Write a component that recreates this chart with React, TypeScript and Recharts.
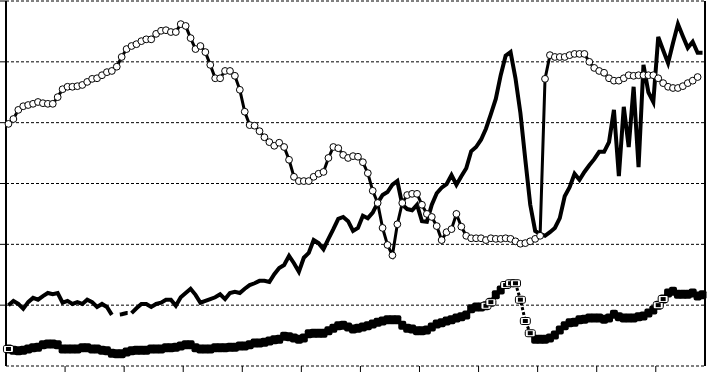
import React from 'react';
import { LineChart, Line, XAxis, YAxis, CartesianGrid } from 'recharts';

// monthly values, 142 months; the chart is cropped so no labels are shown
const openCircles = [
  39.8, 40.6, 42.1, 42.7, 42.9, 43.1, 43.4, 43.2, 43.1, 43.1,
  44.2, 45.5, 45.9, 45.9, 46.0, 46.2, 46.7, 47.2, 47.3, 47.8,
  48.3, 48.5, 49.2, 50.8, 52.1, 52.6, 52.9, 53.4, 53.7, 53.7,
  54.6, 55.1, 55.2, 54.9, 54.9, 56.2, 55.9, 53.9, 52.1, 52.6,
  51.6, 49.5, 47.3, 47.3, 48.5, 48.5, 47.7, 45.4, 41.8, 39.6,
  39.5, 38.6, 37.6, 36.8, 36.2, 36.7, 36.0, 33.9, 31.1, 30.4,
  30.4, 30.4, 31.1, 31.6, 31.9, 34.2, 36.0, 35.8, 34.7, 34.2,
  34.5, 34.4, 33.5, 31.7, 28.8, 26.8, 22.7, 19.9, 18.2, 23.3,
  26.8, 28.1, 28.3, 28.3, 26.5, 25.0, 24.5, 23.0, 20.7, 22.0,
  22.5, 25.0, 22.9, 21.4, 21.0, 21.0, 21.0, 20.7, 21.0, 20.9,
  20.9, 21.0, 20.9, 20.5, 20.1, 20.2, 20.5, 20.9, 21.4, 47.2,
  51.1, 50.8, 50.8, 50.8, 51.1, 51.3, 51.3, 51.3, 50.0, 49.0,
  48.5, 48.2, 47.3, 46.9, 46.9, 47.3, 47.8, 47.7, 47.8, 47.8,
  47.8, 47.8, 47.3, 46.5, 45.9, 45.7, 45.7, 46.0, 46.5, 46.9,
  47.5, null,
];

const solidLine = [
  10.0, 10.7, 10.2, 9.4, 10.5, 11.2, 10.9, 11.5, 12.0, 11.8,
  12.0, 10.4, 10.7, 10.2, 10.5, 10.2, 10.9, 10.5, 9.7, 10.2,
  9.7, 8.4, null, null, null, 8.7, 9.5, 10.2, 10.2, 9.7,
  10.2, 10.4, 10.9, 10.9, 9.9, 11.3, 12.0, 12.7, 11.7, 10.4,
  10.7, 11.0, 11.3, 11.8, 11.0, 12.0, 12.2, 12.0, 12.7, 13.3,
  13.6, 14.0, 14.0, 13.8, 15.1, 16.1, 16.6, 18.1, 16.9, 15.5,
  17.8, 18.6, 20.7, 20.2, 19.2, 20.9, 22.5, 24.2, 24.5, 23.8,
  22.2, 22.7, 24.7, 24.3, 25.2, 26.8, 28.1, 28.6, 29.8, 30.4,
  26.5, 25.8, 25.6, 26.5, 23.8, 23.7, 26.5, 28.4, 29.3, 29.9,
  31.4, 29.8, 31.2, 32.5, 35.3, 36.0, 37.2, 39.0, 41.4, 43.9,
  47.8, 51.0, 51.6, 47.3, 41.6, 33.9, 26.5, 22.2, 21.7, 21.4,
  22.0, 22.7, 24.3, 27.9, 29.4, 31.6, 30.6, 31.9, 33.0, 34.0,
  35.2, 35.2, 36.8, 42.1, 31.2, 42.6, 36.0, 45.9, 32.7, 49.5,
  45.0, 43.4, 54.1, 51.9, 49.8, 53.1, 56.2, 54.2, 52.3, 53.3,
  51.5, 51.5,
];

// short dashed bridge over the missing months of the solid line
const solidBridge: [number, number][] = [
  [21, 8.4], [22, 8.4], [23, 8.5], [24, 8.7], [25, 8.7],
];

const squares = [
  2.8, 2.6, 2.5, 2.6, 2.8, 3.0, 3.1, 3.5, 3.6, 3.6,
  3.5, 2.8, 2.8, 2.8, 2.8, 3.0, 3.0, 2.8, 2.8, 2.6,
  2.5, 2.1, 2.0, 2.0, 2.3, 2.5, 2.6, 2.6, 2.6, 2.8,
  2.8, 2.8, 3.0, 3.0, 3.1, 3.3, 3.5, 3.5, 3.0, 2.8,
  2.8, 2.8, 3.0, 3.0, 3.0, 3.1, 3.1, 3.3, 3.3, 3.5,
  3.8, 3.8, 3.9, 4.1, 4.3, 4.4, 4.9, 4.8, 4.6, 4.4,
  4.6, 5.3, 5.4, 5.4, 5.4, 5.8, 6.2, 6.6, 6.7, 6.4,
  6.1, 6.2, 6.4, 6.6, 6.9, 7.2, 7.4, 7.6, 7.6, 7.6,
  6.7, 6.2, 6.1, 5.8, 5.8, 5.9, 6.4, 6.9, 7.1, 7.4,
  7.6, 7.9, 8.1, 8.4, 9.4, 9.7, 9.7, 9.9, 10.5, 11.7,
  12.5, null, null, null, null, null, null, 4.4, 4.4, 4.4,
  4.6, 5.1, 5.9, 6.6, 7.1, 7.2, 7.6, 7.7, 7.9, 7.9,
  7.9, 7.7, 7.9, 8.5, 8.1, 7.9, 7.9, 7.9, 8.1, 8.2,
  8.7, 9.2, 10.0, 11.0, 12.0, 12.3, 11.8, 11.8, 11.8, 12.0,
  11.5, 11.7,
];

// months drawn with the outlined square marker and dashed line
const outlinedSquares: [number, number][] = [
  [0, 2.8], [97, 9.9], [98, 10.5],
  [101, 13.3], [102, 13.6], [103, 13.6], [104, 10.9], [105, 7.4], [106, 5.4],
  [132, 10.0], [133, 11.0],
];

const yearTicks = [-0.5, 11.5, 23.5, 35.5, 47.5, 59.5, 71.5, 83.5, 95.5, 107.5, 119.5, 131.5];
const leftTicks = [10, 20, 30, 40, 50, 60];
const rightTicks = [0, 10, 20, 30, 40, 50, 60];

const bridgeMap = new Map(solidBridge);
const outlineMap = new Map(outlinedSquares);

const data = openCircles.map((a, i) => ({
  i,
  a,
  b: solidLine[i],
  bd: bridgeMap.has(i) ? bridgeMap.get(i) : null,
  c: squares[i],
  d: outlineMap.has(i) ? outlineMap.get(i) : null,
}));

// labels are cropped away in the source, keep the tick marks only
const NoLabel = () => <g />;

const SquareDot = (props: any) => {
  const { cx, cy, index } = props;
  if (cx == null || cy == null) return <g key={`sq-${index}`} />;
  return <rect key={`sq-${index}`} x={cx - 4} y={cy - 4.5} width={8} height={9} rx={2} fill="#000" />;
};

const OutlinedDot = (props: any) => {
  const { cx, cy, index } = props;
  if (cx == null || cy == null) return <g key={`os-${index}`} />;
  return (
    <g key={`os-${index}`}>
      <rect x={cx - 5.5} y={cy - 4} width={11} height={8} rx={3} fill="#000" />
      <rect x={cx - 4.5} y={cy - 3} width={9} height={6} rx={1} fill="#fff" />
      <rect x={cx - 2.5} y={cy - 2} width={5} height={4} fill="#000" />
    </g>
  );
};

export default function App() {
  return (
    <div style={{ position: 'fixed', left: 0, top: 0, width: 708, height: 372, background: '#fff' }}>
      <LineChart width={708} height={372} data={data} margin={{ top: 1, right: 0, bottom: 0, left: 0 }}>
        <CartesianGrid vertical={false} stroke="#000" strokeDasharray="3 2" />
        <XAxis
          dataKey="i"
          type="number"
          domain={[-0.5, 141.5]}
          ticks={yearTicks}
          height={6}
          axisLine={false}
          tickLine={{ stroke: '#000', strokeWidth: 1 }}
          tickSize={6}
          tick={NoLabel}
        />
        <YAxis
          type="number"
          domain={[0, 60]}
          ticks={leftTicks}
          width={6}
          axisLine={{ stroke: '#000', strokeWidth: 2 }}
          tickLine={{ stroke: '#000', strokeWidth: 1 }}
          tickSize={6}
          tick={NoLabel}
        />
        <YAxis
          yAxisId="r"
          orientation="right"
          type="number"
          domain={[0, 60]}
          ticks={rightTicks}
          width={3}
          axisLine={{ stroke: '#000', strokeWidth: 2 }}
          tickLine={{ stroke: '#000', strokeWidth: 1 }}
          tickSize={3}
          tick={NoLabel}
        />
        <Line dataKey="b" stroke="#000" strokeWidth={4} dot={false} activeDot={false} isAnimationActive={false} />
        <Line
          dataKey="bd"
          stroke="#000"
          strokeWidth={4}
          strokeDasharray="0 8 8 40"
          dot={false}
          activeDot={false}
          isAnimationActive={false}
        />
        <Line
          dataKey="a"
          stroke="#000"
          strokeWidth={3}
          dot={{ r: 3.4, fill: '#fff', stroke: '#000', strokeWidth: 1 }}
          activeDot={false}
          isAnimationActive={false}
        />
        <Line dataKey="c" stroke="#000" strokeWidth={4} dot={SquareDot} activeDot={false} isAnimationActive={false} />
        <Line
          dataKey="d"
          stroke="#000"
          strokeWidth={3}
          strokeDasharray="3 2"
          dot={OutlinedDot}
          activeDot={false}
          isAnimationActive={false}
        />
      </LineChart>
    </div>
  );
}
